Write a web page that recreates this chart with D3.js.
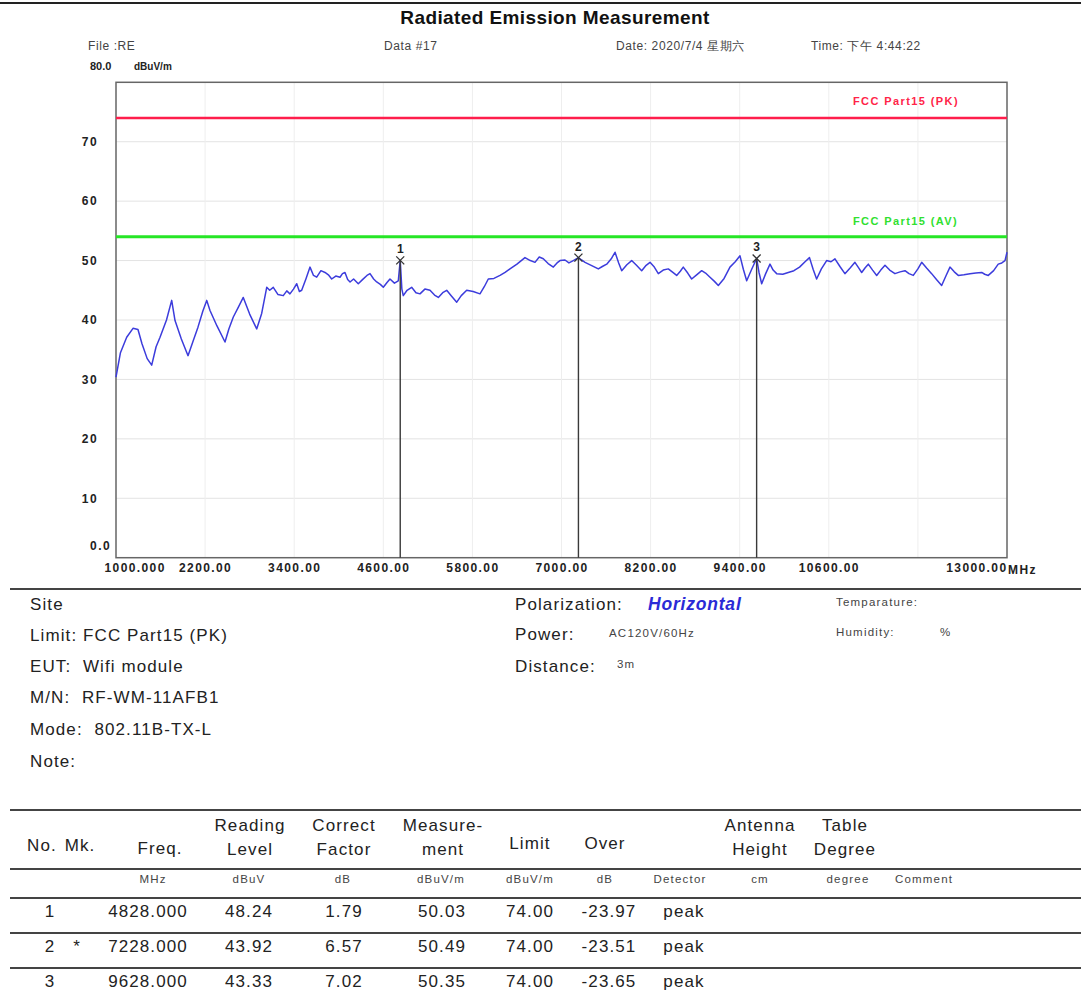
<!DOCTYPE html>
<html>
<head>
<meta charset="utf-8">
<script src="https://cdn.jsdelivr.net/npm/d3@7"></script>
<style>
  body { margin: 0; background: #fff; }
  svg { display: block; font-family: "Liberation Sans", Arial, sans-serif; }
  .ax text { font-weight: bold; font-size: 12px; letter-spacing: 1.4px; fill: #222; }
  .big { font-size: 17px; letter-spacing: 1.1px; fill: #222; }
  .small { font-size: 11.5px; letter-spacing: 1.2px; fill: #444; }
</style>
</head>
<body>
<svg width="1081" height="996"></svg>
<script>
// trace: [MHz, dBuV/m]
const trace = [
  [1000,30.4],[1060,34.5],[1144,37.1],[1229,38.6],[1296,38.4],[1350,36.0],[1420,33.5],[1481,32.4],[1540,35.5],[1593,37.1],
  [1680,40.0],[1750,43.3],[1795,39.9],[1880,36.8],[1970,34.0],[2040,36.5],[2104,38.8],[2170,41.5],[2222,43.3],[2266,41.6],
  [2360,39.0],[2468,36.3],[2520,38.5],[2580,40.5],[2650,42.2],[2714,43.8],[2800,41.0],[2895,38.5],[2962,41.1],[3030,45.5],
  [3070,45.0],[3118,45.5],[3180,44.3],[3253,44.1],[3300,44.9],[3343,44.4],[3390,45.2],[3434,46.1],[3470,44.8],[3501,45.0],
  [3560,47.0],[3613,48.9],[3660,47.5],[3703,47.2],[3760,48.3],[3815,48.0],[3860,47.6],[3905,46.9],[3960,47.4],[4017,47.2],
  [4050,47.8],[4084,48.0],[4120,46.8],[4152,46.4],[4200,46.9],[4263,46.1],[4320,46.8],[4380,47.5],[4421,47.8],[4470,46.9],
  [4511,46.4],[4560,46.0],[4600,45.5],[4650,46.3],[4690,46.9],[4750,46.2],[4802,46.6],[4828,50.03],[4850,45.2],[4869,44.1],
  [4920,45.0],[4982,45.5],[5040,44.6],[5094,44.4],[5160,45.2],[5229,45.0],[5290,44.2],[5341,43.8],[5400,44.6],[5454,45.0],
  [5520,44.0],[5589,43.0],[5650,44.1],[5723,45.0],[5810,44.8],[5902,44.4],[5960,45.6],[6014,46.9],[6090,47.0],[6172,47.5],
  [6240,48.0],[6306,48.6],[6400,49.4],[6508,50.5],[6580,50.0],[6643,49.7],[6700,50.6],[6755,50.3],[6820,49.5],[6890,48.9],
  [6940,49.6],[6980,50.0],[7047,50.1],[7100,49.6],[7159,50.0],[7228,50.49],[7270,50.1],[7317,49.7],[7400,49.2],[7496,48.6],
  [7550,49.0],[7609,49.4],[7670,50.3],[7721,51.4],[7770,49.6],[7811,48.3],[7880,49.3],[7945,50.0],[8010,49.2],[8080,48.3],
  [8140,49.2],[8192,49.7],[8250,48.9],[8304,47.8],[8370,48.4],[8438,48.6],[8500,48.0],[8551,47.5],[8600,48.2],[8640,48.9],
  [8700,47.9],[8753,46.9],[8820,47.6],[8888,48.3],[8940,47.9],[9000,47.2],[9060,46.5],[9112,45.8],[9190,47.0],[9269,48.9],
  [9340,49.8],[9404,50.8],[9450,48.5],[9494,46.6],[9560,48.5],[9628,50.35],[9660,48.0],[9696,46.1],[9750,47.8],[9808,49.4],
  [9850,48.4],[9898,47.8],[9980,47.7],[10054,48.0],[10130,48.3],[10206,48.9],[10280,49.8],[10340,50.5],[10390,48.5],[10436,46.9],
  [10500,48.6],[10571,50.0],[10630,49.8],[10683,50.3],[10750,49.0],[10817,47.8],[10890,48.8],[10952,49.7],[11000,48.8],[11043,48.0],
  [11090,48.8],[11132,49.4],[11190,48.4],[11245,47.5],[11300,48.4],[11357,49.2],[11420,48.4],[11491,47.8],[11560,48.1],[11626,48.3],
  [11680,47.8],[11738,47.5],[11800,48.6],[11851,49.7],[11920,48.7],[11985,47.8],[12050,46.8],[12120,45.8],[12180,47.5],[12232,48.9],
  [12290,48.1],[12344,47.5],[12420,47.6],[12502,47.8],[12580,47.9],[12659,48.0],[12700,47.7],[12748,47.5],[12820,48.3],[12882,49.4],
  [12930,49.6],[12973,50.0],[13000,51.4]
]

const limitPK = 74
const limitAV = 54

const xTicks = [1000,2200,3400,4600,5800,7000,8200,9400,10600,13000]
const xTickLabels = ['1000.000','2200.00','3400.00','4600.00','5800.00','7000.00','8200.00','9400.00','10600.00','13000.00']
const xGrid = [2200,3400,4600,5800,7000,8200,9400,10600,11800]
const yTicks = [0,10,20,30,40,50,60,70]
const yTickLabels = ['0.0','10','20','30','40','50','60','70']

// table rows
const mkNo = ['1','2','3']
const mkFlag = ['','*','']
const mkFreq = [4828.000,7228.000,9628.000]
const mkReading = [48.24,43.92,43.33]
const mkFactor = [1.79,6.57,7.02]
const mkMeasure = [50.03,50.49,50.35]
const mkLimit = [74.00,74.00,74.00]
const mkOver = [-23.97,-23.51,-23.65]
const mkDetector = ['peak','peak','peak']

const svg = d3.select('svg')

const margin = {top: 82.3, left: 116},
  width = 1007 - 116,
  height = 557.7 - 82.3
const x = d3.scaleLinear().domain([1000, 13000]).range([0, width])
const y = d3.scaleLinear().domain([0, 80]).range([height, 0])

// page header
svg.append('line').attr('x1', 0).attr('x2', 1081).attr('y1', 3).attr('y2', 3)
  .attr('stroke', '#222').attr('stroke-width', 2)
svg.append('text').attr('x', 555).attr('y', 24).attr('text-anchor', 'middle')
  .attr('font-size', 19).attr('font-weight', 'bold').attr('letter-spacing', 0.4).attr('fill', '#111')
  .text('Radiated Emission Measurement')
const head = [['File :RE', 88], ['Data #17', 384], ['Date: 2020/7/4 星期六', 616], ['Time: 下午 4:44:22', 811]]
head.forEach(h => svg.append('text').attr('x', h[1]).attr('y', 50)
  .attr('font-size', 12).attr('letter-spacing', 0.6).attr('fill', '#444').text(h[0]))
svg.append('text').attr('x', 90).attr('y', 70).attr('font-size', 11).attr('font-weight', 'bold')
  .attr('fill', '#222').text('80.0')
svg.append('text').attr('x', 134).attr('y', 70).attr('font-size', 10).attr('font-weight', 'bold')
  .attr('fill', '#222').text('dBuV/m')

const g = svg.append('g').attr('transform', `translate(${margin.left}, ${margin.top})`)

// grid
g.selectAll('.hgrid').data(yTicks.filter(d => d > 0)).enter().append('line')
  .attr('x1', 0).attr('x2', width).attr('y1', d => y(d)).attr('y2', d => y(d))
  .attr('stroke', '#e3e3e3').attr('stroke-width', 1)
g.selectAll('.vgrid').data(xGrid).enter().append('line')
  .attr('x1', d => x(d)).attr('x2', d => x(d)).attr('y1', 0).attr('y2', height)
  .attr('stroke', '#eeeeee').attr('stroke-width', 1)

// frame
g.append('rect').attr('width', width).attr('height', height)
  .attr('fill', 'none').attr('stroke', '#666').attr('stroke-width', 1.5)

// axes
const yAxis = g.append('g').attr('class', 'ax')
  .call(d3.axisLeft(y).tickValues(yTicks).tickSize(0).tickPadding(18)
    .tickFormat((d, i) => yTickLabels[i]))
yAxis.select('.domain').remove()
yAxis.selectAll('.tick').filter(d => d === 0).select('text').attr('dx', 13).attr('dy', -8)

const xAxis = g.append('g').attr('class', 'ax').attr('transform', `translate(0, ${height})`)
  .call(d3.axisBottom(x).tickValues(xTicks).tickSize(0).tickPadding(6)
    .tickFormat((d, i) => xTickLabels[i]))
xAxis.select('.domain').remove()
xAxis.selectAll('.tick').filter(d => d === 1000).select('text').attr('text-anchor', 'start').attr('dx', -12)
xAxis.selectAll('.tick').filter(d => d === 13000).select('text').attr('text-anchor', 'end').attr('dx', 0)
xAxis.append('text').attr('x', width + 1).attr('y', 16).attr('text-anchor', 'start')
  .attr('fill', '#222').attr('font-size', 10).text('MHz')

// limit lines
g.append('line').attr('x1', 0).attr('x2', width).attr('y1', y(limitPK)).attr('y2', y(limitPK))
  .attr('stroke', '#ff1e4c').attr('stroke-width', 2.5)
g.append('line').attr('x1', 0).attr('x2', width).attr('y1', y(limitAV)).attr('y2', y(limitAV))
  .attr('stroke', '#26e626').attr('stroke-width', 3)
g.append('text').attr('x', 737).attr('y', y(limitPK) - 13).attr('font-size', 11).attr('font-weight', 'bold')
  .attr('letter-spacing', 1.4).attr('fill', '#ff2448').text('FCC Part15 (PK)')
g.append('text').attr('x', 737).attr('y', y(limitAV) - 12).attr('font-size', 11).attr('font-weight', 'bold')
  .attr('letter-spacing', 1.4).attr('fill', '#30e030').text('FCC Part15 (AV)')

// trace
const line = d3.line().x(d => x(d[0])).y(d => y(d[1]))
g.append('path').datum(trace).attr('d', line)
  .attr('fill', 'none').attr('stroke', '#3c3cdc').attr('stroke-width', 1.5).attr('stroke-linejoin', 'round')

// markers
mkFreq.forEach((f, i) => {
  const mx = x(f), my = y(mkMeasure[i])
  g.append('line').attr('x1', mx).attr('x2', mx).attr('y1', my).attr('y2', height)
    .attr('stroke', '#3a3a3a').attr('stroke-width', 1.4)
  g.append('path').attr('d', `M${mx-4},${my-4}L${mx+4},${my+4}M${mx-4},${my+4}L${mx+4},${my-4}`)
    .attr('stroke', '#333').attr('stroke-width', 1.3)
  g.append('text').attr('x', mx).attr('y', my - 7).attr('text-anchor', 'middle')
    .attr('font-size', 12).attr('font-weight', 'bold').attr('fill', '#222').text(mkNo[i])
})

// separator under plot
svg.append('line').attr('x1', 10).attr('x2', 1081).attr('y1', 589).attr('y2', 589)
  .attr('stroke', '#444').attr('stroke-width', 2)

// info block
const info = [['Site', 610], ['Limit: FCC Part15 (PK)', 641], ['EUT:\u00a0\u00a0Wifi module', 672],
  ['M/N:\u00a0\u00a0RF-WM-11AFB1', 703], ['Mode:\u00a0\u00a0802.11B-TX-L', 735], ['Note:', 767]]
info.forEach(t => svg.append('text').attr('class', 'big').attr('x', 30).attr('y', t[1])
  .attr('font-size', 17.5).text(t[0]))
svg.append('text').attr('class', 'big').attr('x', 515).attr('y', 610).attr('font-size', 17.5).text('Polarization:')
svg.append('text').attr('x', 648).attr('y', 610).attr('font-size', 17.5).attr('font-weight', 'bold')
  .attr('font-style', 'italic').attr('letter-spacing', 0.8).attr('fill', '#2a2ad6').text('Horizontal')
svg.append('text').attr('class', 'big').attr('x', 515).attr('y', 640).attr('font-size', 17.5).text('Power:')
svg.append('text').attr('class', 'small').attr('x', 609).attr('y', 637).text('AC120V/60Hz')
svg.append('text').attr('class', 'big').attr('x', 515).attr('y', 672).attr('font-size', 17.5).text('Distance:')
svg.append('text').attr('class', 'small').attr('x', 617).attr('y', 668).text('3m')
svg.append('text').attr('class', 'small').attr('x', 836).attr('y', 606).text('Temparature:')
svg.append('text').attr('class', 'small').attr('x', 836).attr('y', 636).text('Humidity:')
svg.append('text').attr('class', 'small').attr('x', 940).attr('y', 636).text('%')

// table
const tLines = [810, 869, 898, 933, 968]
tLines.forEach(ly => svg.append('line').attr('x1', 10).attr('x2', 1081).attr('y1', ly).attr('y2', ly)
  .attr('stroke', '#444').attr('stroke-width', 2))

const hdr = [
  ['No.', 42, null, 851], ['Mk.', 80, null, 851], ['Freq.', 160, null, 854],
  ['Reading', 250, 'Level', 0], ['Correct', 344, 'Factor', 0], ['Measure-', 443, 'ment', 0],
  ['Limit', 530, null, 849], ['Over', 605, null, 849], ['Antenna', 760, 'Height', 0], ['Table', 845, 'Degree', 0]
]
hdr.forEach(h => {
  if (h[2]) {
    svg.append('text').attr('class', 'big').attr('x', h[1]).attr('y', 831).attr('text-anchor', 'middle').text(h[0])
    svg.append('text').attr('class', 'big').attr('x', h[1]).attr('y', 855).attr('text-anchor', 'middle').text(h[2])
  } else {
    svg.append('text').attr('class', 'big').attr('x', h[1]).attr('y', h[3]).attr('text-anchor', 'middle').text(h[0])
  }
})
const units = [['MHz', 153], ['dBuV', 249], ['dB', 343], ['dBuV/m', 441], ['dBuV/m', 530], ['dB', 605],
  ['Detector', 680], ['cm', 760], ['degree', 848], ['Comment', 924]]
units.forEach(u => svg.append('text').attr('class', 'small').attr('x', u[1]).attr('y', 883)
  .attr('text-anchor', 'middle').text(u[0]))

const rowY = [917, 952, 987]
mkNo.forEach((n, i) => {
  const cells = [[n, 50], [mkFlag[i], 77], [mkFreq[i].toFixed(3), 148], [mkReading[i].toFixed(2), 249],
    [mkFactor[i].toFixed(2), 344], [mkMeasure[i].toFixed(2), 442], [mkLimit[i].toFixed(2), 530],
    [mkOver[i].toFixed(2), 609], [mkDetector[i], 684]]
  cells.forEach(c => svg.append('text').attr('class', 'big').attr('x', c[1]).attr('y', rowY[i])
    .attr('text-anchor', 'middle').attr('letter-spacing', 1.4).text(c[0]))
})
</script>
</body>
</html>
